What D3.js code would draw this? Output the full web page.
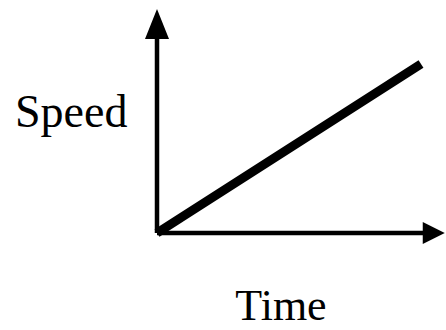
<!DOCTYPE html>
<html>
<head>
<meta charset="utf-8">
<script src="https://cdn.jsdelivr.net/npm/d3@7"></script>
<style>
  html, body { margin: 0; padding: 0; background: #fff; }
  svg { display: block; }
</style>
</head>
<body>
<script>
// data: speed grows linearly with time
var times = [0, 1];
var speeds = [0, 1];
var axisEnd = { time: 1.09, speed: 1.325 };
var labels = { x: "Time", y: "Speed" };

function init()
{
    var w = 446;
    var h = 330;

    var x = d3.scaleLinear()
              .domain([0, 1])
              .range([157, 421]);

    var y = d3.scaleLinear()
              .domain([0, 1])
              .range([233, 64]);

    var svg = d3.select("body")
                .append("svg")
                .attr("width", w)
                .attr("height", h);

    // axes
    svg.append("line")
       .attr("x1", x(0)).attr("y1", y(0))
       .attr("x2", x(0)).attr("y2", y(axisEnd.speed) + 20)
       .attr("stroke", "black")
       .attr("stroke-width", 4.5);

    svg.append("line")
       .attr("x1", x(0)).attr("y1", y(0))
       .attr("x2", x(axisEnd.time) - 16).attr("y2", y(0))
       .attr("stroke", "black")
       .attr("stroke-width", 4.5);

    // arrow heads
    var tipY = y(axisEnd.speed);
    svg.append("polygon")
       .attr("points", [[x(0), tipY], [x(0) - 12, tipY + 30], [x(0) + 12, tipY + 30]].join(" "))
       .attr("fill", "black");

    var tipX = x(axisEnd.time);
    svg.append("polygon")
       .attr("points", [[tipX, y(0)], [tipX - 22, y(0) - 11], [tipX - 22, y(0) + 11]].join(" "))
       .attr("fill", "black");

    // the speed line
    var line = d3.line()
                 .x(function(d, i) { return x(times[i]); })
                 .y(function(d) { return y(d); });

    svg.append("path")
       .datum(speeds)
       .attr("d", line)
       .attr("fill", "none")
       .attr("stroke", "black")
       .attr("stroke-width", 9)
       .attr("stroke-linecap", "butt");

    // labels
    svg.append("text")
       .attr("x", 15)
       .attr("y", 127)
       .style("font-family", "'Liberation Serif', 'Times New Roman', serif")
       .style("font-size", "46px")
       .text(labels.y);

    svg.append("text")
       .attr("x", 281)
       .attr("y", 320)
       .attr("text-anchor", "middle")
       .style("font-family", "'Liberation Serif', 'Times New Roman', serif")
       .style("font-size", "44px")
       .text(labels.x);
}
window.onload = init
</script>
</body>
</html>
